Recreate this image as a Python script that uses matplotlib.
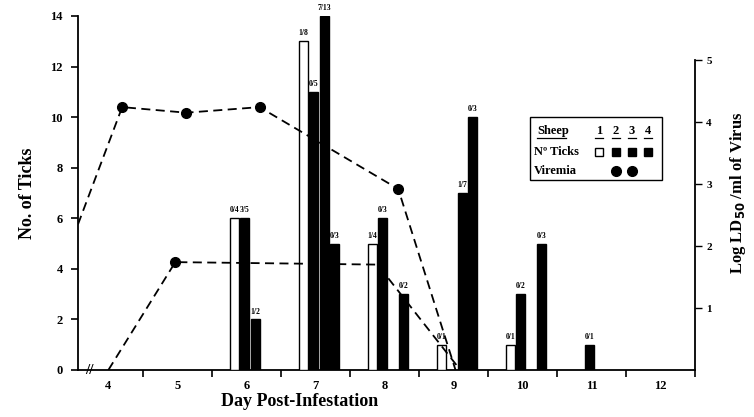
"""
Tick counts per sheep and viremia titre by day post-infestation
"""

import numpy as np
import matplotlib.pyplot as plt
from matplotlib.patches import Rectangle, Circle
from matplotlib.lines import Line2D

# tick counts (bars), one list per sheep, indexed by day
days = [6, 7, 8, 9, 10, 11]
ticks_sheep1 = [6, 13, 5, 1, 1, 0]
ticks_sheep2 = [6, 11, 6, 0, 3, 1]
ticks_sheep3 = [2, 14, 0, 7, 0, 0]
ticks_sheep4 = [0, 5, 3, 10, 5, 0]
labels_sheep1 = ['0/4', '1/8', '1/4', '0/1', '0/1', '']
labels_sheep2 = ['3/5', '0/5', '0/3', '', '0/2', '0/1']
labels_sheep3 = ['1/2', '7/13', '', '1/7', '', '']
labels_sheep4 = ['', '0/3', '0/2', '0/3', '0/3', '']

# viremia (log LD50/ml), two sheep
vir_a_day = [3.56, 4.2, 5.13, 6.19, 8.2, 9.03]
vir_a_log = [2.35, 4.24, 4.15, 4.24, 2.92, 0.0]
vir_b_day = [4.0, 4.97, 7.9, 9.1]
vir_b_log = [0.0, 1.74, 1.7, 0.0]

day_ticks = [4, 5, 6, 7, 8, 9, 10, 11, 12]
left_ticks = [0, 2, 4, 6, 8, 10, 12, 14]
right_ticks = [1, 2, 3, 4, 5]

W, H = 754, 417
plt.rcParams['font.family'] = ['Liberation Serif', 'DejaVu Serif']
plt.rcParams['font.weight'] = 'bold'

fig = plt.figure(figsize=(W / 100, H / 100), dpi=100)
ax = fig.add_axes([78 / W, 1 - 370 / H, (695 - 78) / W, (370 - 16) / H])

# bars
offsets = [-0.17, -0.03, 0.13, 0.28]
width = 0.13
series = [ticks_sheep1, ticks_sheep2, ticks_sheep3, ticks_sheep4]
labels = [labels_sheep1, labels_sheep2, labels_sheep3, labels_sheep4]
faces = ['white', 'black', 'black', 'black']
x = np.array(days, dtype=float)
for vals, labs, off, fc in zip(series, labels, offsets, faces):
    v = np.array(vals, dtype=float)
    mask = v > 0
    ax.bar(x[mask] + off, v[mask], width=width, color=fc, edgecolor='black',
           linewidth=1.0, zorder=3)
    for xi, vi, lab in zip(x + off, v, labs):
        if lab:
            ax.text(xi, vi + 0.15, lab, ha='center', va='bottom', fontsize=5.5,
                    fontweight='bold', zorder=4)

# viremia on right axis
ax2 = ax.twinx()
ax2.plot(vir_a_day, vir_a_log, color='black', lw=1.3, ls=(0, (5, 3)), zorder=2)
ax2.plot(vir_a_day[1:5], vir_a_log[1:5], 'o', color='black', ms=7, zorder=5)
ax2.plot(vir_b_day, vir_b_log, color='black', lw=1.3, ls=(0, (5, 3)), zorder=2)
ax2.plot(vir_b_day[1:2], vir_b_log[1:2], 'o', color='black', ms=7, zorder=5)

# axes limits
ax.set_xlim(3.56, 12.5)
ax.set_ylim(0, 14)
ax2.set_ylim(0, (370 - 16) / 62)

for a in (ax, ax2):
    a.spines['top'].set_visible(False)
ax.spines['right'].set_visible(False)
ax2.spines['left'].set_visible(False)
ax2.spines['bottom'].set_visible(False)
ax2.spines['right'].set_bounds(0, 5)
for s in ('left', 'bottom'):
    ax.spines[s].set_linewidth(1.3)
ax2.spines['right'].set_linewidth(1.3)

# x ticks: boundaries as marks, day numbers at centres
ax.set_xticks(np.arange(4.5, 12.6, 1.0))
ax.set_xticklabels([])
ax.tick_params(axis='x', which='major', direction='out', length=5, width=1.2)
ax.set_xticks(day_ticks, minor=True)
ax.set_xticklabels([str(d) for d in day_ticks], minor=True, fontsize=9,
                   fontweight='bold')
ax.tick_params(axis='x', which='minor', length=0, pad=7)

ax.set_yticks(left_ticks)
ax.set_yticklabels([str(t) for t in left_ticks], fontsize=9, fontweight='bold')
ax.tick_params(axis='y', direction='out', length=5, width=1.2, pad=6)

ax2.set_yticks(right_ticks)
ax2.set_yticklabels([str(t) for t in right_ticks], fontsize=8, fontweight='bold')
ax2.tick_params(axis='y', direction='out', length=5, width=1.0, pad=3)

ax.set_xlabel('Day Post-Infestation', fontsize=13, fontweight='bold', labelpad=2)
ax.xaxis.set_label_coords(0.36, -0.065)
ax.set_ylabel('No. of Ticks', fontsize=13, fontweight='bold', labelpad=10)
ax2.set_ylabel('Log LD$_{\\mathbf{50}}$ /ml of Virus', fontsize=12,
               fontweight='bold', labelpad=12)

# axis break mark
ax.text(0.012, 0.0, '//', transform=ax.transAxes, ha='left', va='center',
        fontsize=11, fontweight='bold', zorder=6)


# hand-drawn legend box (figure pixel positions)
def fx(px):
    return px / W


def fy(py):
    return 1 - py / H


fig.add_artist(Rectangle((fx(530), fy(180)), fx(662) - fx(530), fy(117) - fy(180),
                         transform=fig.transFigure, fill=False, lw=1.0,
                         edgecolor='black'))
fig.text(fx(537), fy(131), 'Sheep', fontsize=9, fontweight='bold', va='center')
fig.add_artist(Line2D([fx(537), fx(566)], [fy(138), fy(138)],
                      transform=fig.transFigure, color='black', lw=0.9))
num_x = [599, 616, 632, 648]
for i, nx in enumerate(num_x):
    fig.text(fx(nx), fy(131), str(i + 1), fontsize=9, fontweight='bold',
             ha='center', va='center')
    fig.add_artist(Line2D([fx(nx - 4), fx(nx + 4)], [fy(138), fy(138)],
                          transform=fig.transFigure, color='black', lw=0.9))
    fig.add_artist(Rectangle((fx(nx - 4), fy(156)), fx(8), fy(148) - fy(156),
                             transform=fig.transFigure, facecolor=faces[i],
                             edgecolor='black', lw=1.0))
fig.text(fx(534), fy(152), 'Nº Ticks', fontsize=9, fontweight='bold', va='center')
fig.text(fx(534), fy(171), 'Viremia', fontsize=9, fontweight='bold', va='center')
for nx in num_x[1:3]:
    fig.add_artist(Line2D([fx(nx)], [fy(171)], transform=fig.transFigure,
                          marker='o', color='black', ms=7))

plt.savefig('out.png', dpi=100)
plt.close()
